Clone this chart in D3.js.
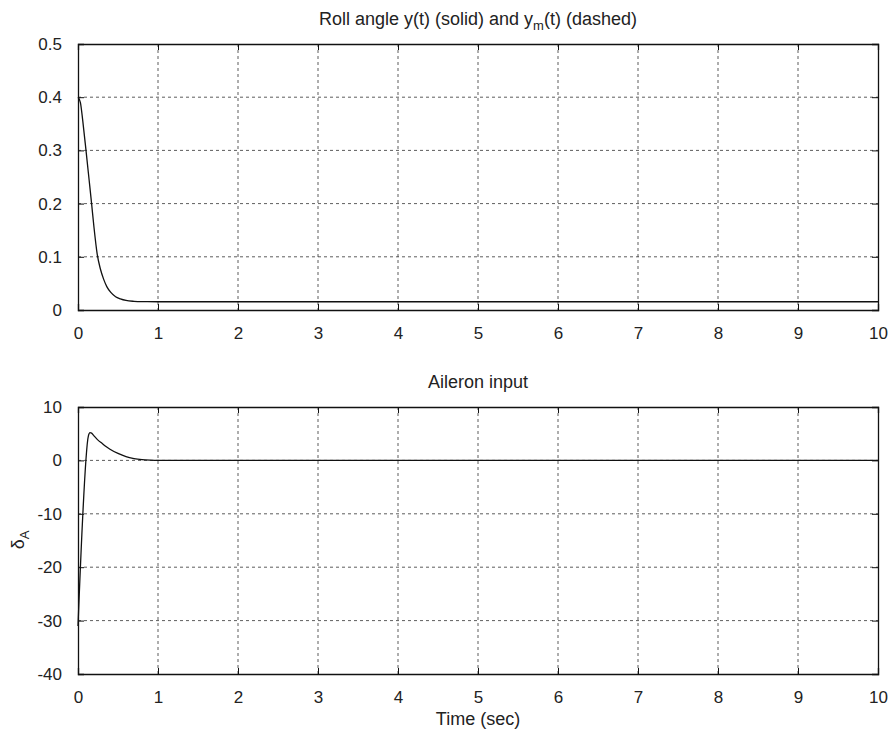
<!DOCTYPE html>
<html>
<head>
<meta charset="utf-8">
<script src="https://cdn.jsdelivr.net/npm/d3@7"></script>
<style>
  body { margin: 0; background: #fff; }
  text { font-family: "Liberation Sans", Arial, sans-serif; fill: #222; }
</style>
</head>
<body>
<svg id="chart" width="893" height="731"></svg>
<script>
// Data
const xTicks = [0, 1, 2, 3, 4, 5, 6, 7, 8, 9, 10];
const rollTicks = [0, 0.1, 0.2, 0.3, 0.4, 0.5];
const aileronTicks = [-40, -30, -20, -10, 0, 10];

const rollT = [0, 0.03, 0.06, 0.1, 0.14, 0.17, 0.2, 0.24, 0.28, 0.32, 0.36, 0.41, 0.47, 0.53, 0.6, 0.7, 0.8, 1, 10];
const rollY = [0.40, 0.39, 0.355, 0.30, 0.243, 0.20, 0.155, 0.105, 0.077, 0.058, 0.044, 0.033, 0.025, 0.021, 0.018, 0.0163, 0.0157, 0.0155, 0.0155];

const ailT = [0, 0.13, 0.15, 0.17, 0.2, 0.25, 0.3, 0.35, 0.4, 0.5, 0.6, 0.7, 0.8, 0.9, 1, 10];
const ailU = [-31, 4.6, 5.2, 5.1, 4.6, 3.8, 3.2, 2.6, 2.1, 1.3, 0.7, 0.35, 0.15, 0.05, 0, 0];

const svg = d3.select("#chart");

// one panel = frame + grid + ticks + line
function panel(top, bottom, yDomain, yTicks, tVals, vals, title) {
    const x = d3.scaleLinear().domain([0, 10]).range([78, 878]);
    const y = d3.scaleLinear().domain(yDomain).range([bottom, top]);
    const g = svg.append("g");

    // grid
    g.selectAll(".vg").data(xTicks.slice(1, -1)).join("line")
        .attr("x1", d => x(d)).attr("x2", d => x(d))
        .attr("y1", top).attr("y2", bottom)
        .attr("stroke", "#333").attr("stroke-width", 0.8).attr("stroke-dasharray", "3,3");
    g.selectAll(".hg").data(yTicks.slice(1, -1)).join("line")
        .attr("x1", 78).attr("x2", 878)
        .attr("y1", d => y(d)).attr("y2", d => y(d))
        .attr("stroke", "#333").attr("stroke-width", 0.8).attr("stroke-dasharray", "3,3");

    // axes with inward ticks
    g.append("g").attr("transform", `translate(0,${bottom})`)
        .call(d3.axisBottom(x).tickValues(xTicks).tickSize(-6).tickPadding(17).tickFormat(d3.format("d")));
    g.append("g").attr("transform", `translate(0,${top})`)
        .call(d3.axisTop(x).tickValues(xTicks).tickSize(-6).tickFormat(""));
    g.append("g").attr("transform", "translate(78,0)")
        .call(d3.axisLeft(y).tickValues(yTicks).tickSize(-6).tickPadding(16).tickFormat(d => d));
    g.append("g").attr("transform", "translate(878,0)")
        .call(d3.axisRight(y).tickValues(yTicks).tickSize(-6).tickFormat(""));
    g.selectAll(".domain").attr("stroke", "#111").attr("stroke-width", 1.3);
    g.selectAll(".tick line").attr("stroke", "#111");
    g.selectAll(".tick text").attr("font-size", 17).style("font-family", "Liberation Sans, Arial, sans-serif").attr("fill", "#222");

    // data line
    const line = d3.line()
        .x((d, i) => x(tVals[i]))
        .y(d => y(d))
        .curve(d3.curveMonotoneX);
    g.append("path").datum(vals)
        .attr("fill", "none").attr("stroke", "#111").attr("stroke-width", 1.3)
        .attr("d", line);

    // title
    const t = g.append("text").attr("x", 478).attr("y", top - 19)
        .attr("text-anchor", "middle").attr("font-size", 18);
    title(t);
    return g;
}

panel(44, 310, [0, 0.5], rollTicks, rollT, rollY, t => {
    t.append("tspan").text("Roll angle y(t) (solid) and y");
    t.append("tspan").attr("font-size", 13).attr("dy", 5).text("m");
    t.append("tspan").attr("dy", -5).text("(t) (dashed)");
});

panel(407, 674, [-40, 10], aileronTicks, ailT, ailU, t => {
    t.text("Aileron input");
});

// axis labels
svg.append("text").attr("x", 478).attr("y", 725)
    .attr("text-anchor", "middle").attr("font-size", 18).text("Time (sec)");

const yl = svg.append("text")
    .attr("transform", "translate(24,540) rotate(-90)")
    .attr("text-anchor", "middle").attr("font-size", 18);
yl.append("tspan").text("δ");
yl.append("tspan").attr("font-size", 13).attr("dy", 5).text("A");
</script>
</body>
</html>
